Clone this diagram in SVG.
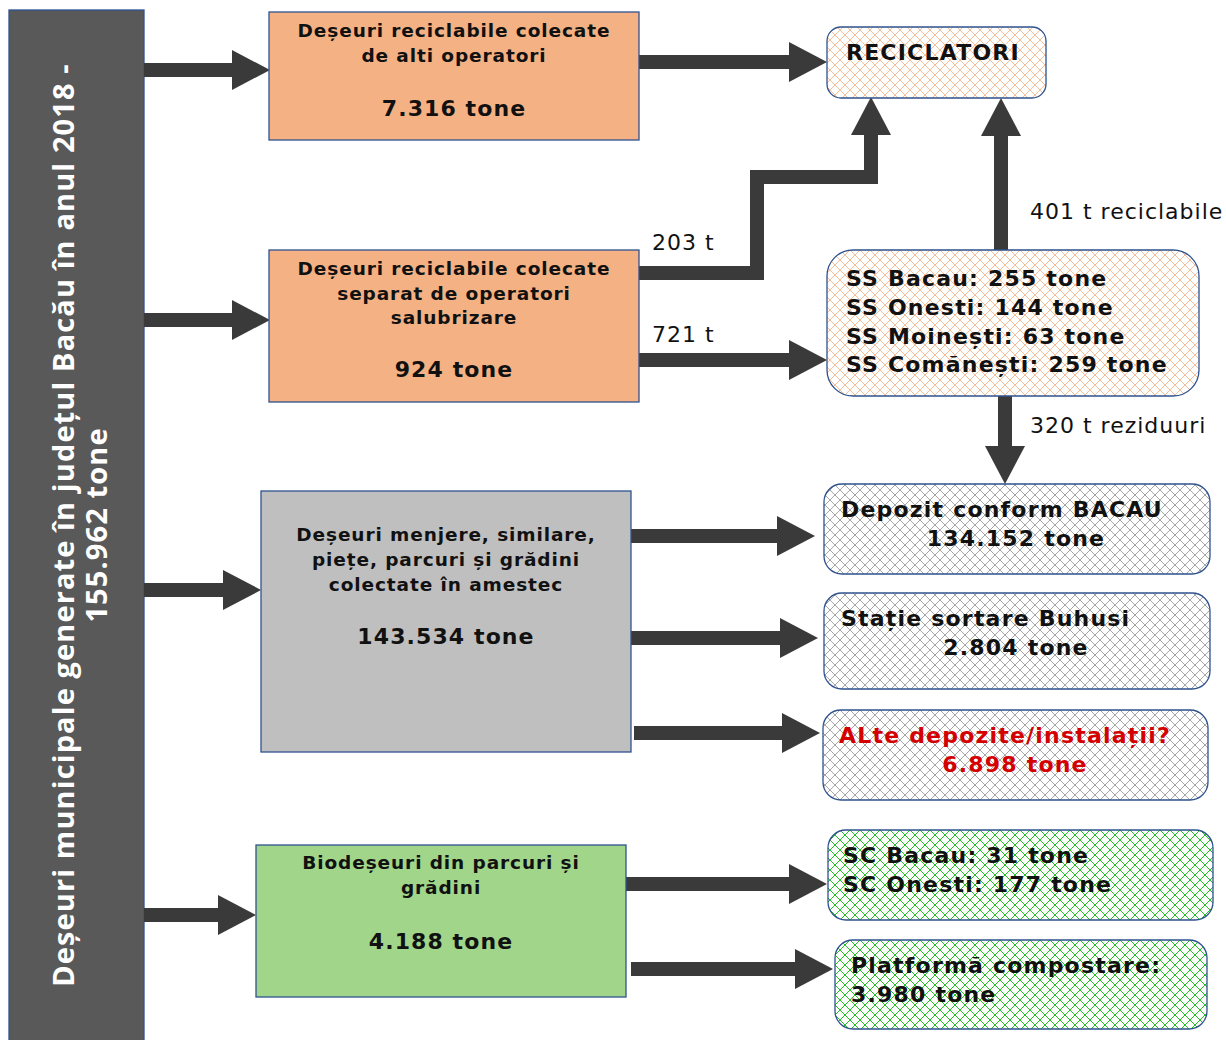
<svg xmlns="http://www.w3.org/2000/svg" width="1226" height="1040" viewBox="0 0 1226 1040">
<style>
.box{stroke:#2F528F;stroke-width:1.3}
.t{font-family:"DejaVu Sans",Verdana,sans-serif;font-weight:bold;font-size:18.5px;letter-spacing:0.9px;fill:#111}
.big{font-size:22px;letter-spacing:1.1px}
.rt{font-family:"DejaVu Sans",Verdana,sans-serif;font-weight:bold;font-size:22px;letter-spacing:1.2px;fill:#111}
.red{fill:#D40000}
.lbl{font-family:"DejaVu Sans",Verdana,sans-serif;font-size:22px;letter-spacing:1px;fill:#111}
.side{font-family:"Open Sans",sans-serif;font-weight:bold;font-size:29px;letter-spacing:1.1px;fill:#fff}
.conn{stroke:#3A3A3A;stroke-width:14;fill:none;stroke-linejoin:miter}
</style>
<defs>
<pattern id="hO" width="10" height="10" patternUnits="userSpaceOnUse">
<rect width="10" height="10" fill="#fff"/>
<path d="M0,0 L10,10 M10,0 L0,10" stroke="#F6BE98" stroke-width="1"/>
</pattern>
<pattern id="hG" width="10" height="10" patternUnits="userSpaceOnUse">
<rect width="10" height="10" fill="#fff"/>
<path d="M0,0 L10,10 M10,0 L0,10" stroke="#A6A6A6" stroke-width="1"/>
</pattern>
<pattern id="hV" width="10" height="10" patternUnits="userSpaceOnUse">
<rect width="10" height="10" fill="#fff"/>
<path d="M0,0 L10,10 M10,0 L0,10" stroke="#22C022" stroke-width="1"/>
</pattern>
<marker id="ah" markerUnits="userSpaceOnUse" markerWidth="38" markerHeight="40" refX="0" refY="20" orient="auto" viewBox="0 0 38 40">
<path d="M0,0 L38,20 L0,40 z" fill="#3A3A3A"/>
</marker>
</defs>

<g id="source">
<rect class="box" x="9" y="10" width="135" height="1040" fill="#595959"/>
<text class="side" transform="translate(62,525) rotate(-90)" text-anchor="middle" dominant-baseline="central">Deșeuri municipale generate în județul Bacău în anul 2018 -</text>
<text class="side" transform="translate(95,525) rotate(-90)" text-anchor="middle" dominant-baseline="central">155.962 tone</text>
</g>

<g id="connectors">
<line class="conn" x1="144" y1="70" x2="232" y2="70" marker-end="url(#ah)"/>
<line class="conn" x1="144" y1="320" x2="232" y2="320" marker-end="url(#ah)"/>
<line class="conn" x1="144" y1="590" x2="223" y2="590" marker-end="url(#ah)"/>
<line class="conn" x1="144" y1="915" x2="218" y2="915" marker-end="url(#ah)"/>
<line class="conn" x1="639" y1="62" x2="789" y2="62" marker-end="url(#ah)"/>
<polyline class="conn" points="639,273 757,273 757,177 871,177 871,135" marker-end="url(#ah)"/>
<line class="conn" x1="639" y1="360" x2="789" y2="360" marker-end="url(#ah)"/>
<line class="conn" x1="1001" y1="250" x2="1001" y2="136" marker-end="url(#ah)"/>
<line class="conn" x1="1005" y1="396" x2="1005" y2="446" marker-end="url(#ah)"/>
<line class="conn" x1="631" y1="536" x2="777" y2="536" marker-end="url(#ah)"/>
<line class="conn" x1="631" y1="638" x2="780" y2="638" marker-end="url(#ah)"/>
<line class="conn" x1="634" y1="733" x2="782" y2="733" marker-end="url(#ah)"/>
<line class="conn" x1="626" y1="884" x2="789" y2="884" marker-end="url(#ah)"/>
<line class="conn" x1="631" y1="969" x2="795" y2="969" marker-end="url(#ah)"/>
<text class="lbl" x="652" y="250">203 t</text>
<text class="lbl" x="652" y="342">721 t</text>
<text class="lbl" x="1030" y="219">401 t reciclabile</text>
<text class="lbl" x="1030" y="433">320 t reziduuri</text>
</g>

<g id="n-alti">
<rect class="box" x="269" y="12" width="370" height="128" fill="#F4B183"/>
<text class="t" x="454" y="37" text-anchor="middle">Deșeuri reciclabile colecate</text>
<text class="t" x="454" y="62" text-anchor="middle">de alti operatori</text>
<text class="t big" x="454" y="116" text-anchor="middle">7.316 tone</text>
</g>

<g id="n-separat">
<rect class="box" x="269" y="250" width="370" height="152" fill="#F4B183"/>
<text class="t" x="454" y="275" text-anchor="middle">Deșeuri reciclabile colecate</text>
<text class="t" x="454" y="300" text-anchor="middle">separat de operatori</text>
<text class="t" x="454" y="324" text-anchor="middle">salubrizare</text>
<text class="t big" x="454" y="377" text-anchor="middle">924 tone</text>
</g>

<g id="n-amestec">
<rect class="box" x="261" y="491" width="370" height="261" fill="#BFBFBF"/>
<text class="t" x="446" y="541" text-anchor="middle">Deșeuri menjere, similare,</text>
<text class="t" x="446" y="566" text-anchor="middle">piețe, parcuri și grădini</text>
<text class="t" x="446" y="591" text-anchor="middle">colectate în amestec</text>
<text class="t big" x="446" y="644" text-anchor="middle">143.534 tone</text>
</g>

<g id="n-bio">
<rect class="box" x="256" y="845" width="370" height="152" fill="#A0D58A"/>
<text class="t" x="441" y="869" text-anchor="middle">Biodeșeuri din parcuri și</text>
<text class="t" x="441" y="894" text-anchor="middle">grădini</text>
<text class="t big" x="441" y="949" text-anchor="middle">4.188 tone</text>
</g>

<g id="n-reciclatori">
<rect class="box" x="827" y="27" width="219" height="71" rx="14" fill="url(#hO)"/>
<text class="rt" x="846" y="60">RECICLATORI</text>
</g>

<g id="n-ss">
<rect class="box" x="827" y="250" width="372" height="146" rx="26" fill="url(#hO)"/>
<text class="rt" x="846" y="286">SS Bacau: 255 tone</text>
<text class="rt" x="846" y="315">SS Onesti: 144 tone</text>
<text class="rt" x="846" y="344">SS Moinești: 63 tone</text>
<text class="rt" x="846" y="372">SS Comănești: 259 tone</text>
</g>

<g id="n-depozit">
<rect class="box" x="824" y="484" width="386" height="90" rx="18" fill="url(#hG)"/>
<text class="rt" x="841" y="517">Depozit conform BACAU</text>
<text class="rt" x="1016" y="546" text-anchor="middle">134.152 tone</text>
</g>

<g id="n-buhusi">
<rect class="box" x="824" y="593" width="386" height="96" rx="18" fill="url(#hG)"/>
<text class="rt" x="841" y="626">Stație sortare Buhusi</text>
<text class="rt" x="1016" y="655" text-anchor="middle">2.804 tone</text>
</g>

<g id="n-alte">
<rect class="box" x="823" y="710" width="385" height="90" rx="18" fill="url(#hG)"/>
<text class="rt red" x="839" y="743">ALte depozite/instalații?</text>
<text class="rt red" x="1015" y="772" text-anchor="middle">6.898 tone</text>
</g>

<g id="n-sc">
<rect class="box" x="828" y="830" width="385" height="90" rx="18" fill="url(#hV)"/>
<text class="rt" x="843" y="863">SC Bacau: 31 tone</text>
<text class="rt" x="843" y="892">SC Onesti: 177 tone</text>
</g>

<g id="n-platforma">
<rect class="box" x="835" y="940" width="372" height="89" rx="18" fill="url(#hV)"/>
<text class="rt" x="851" y="973">Platformă compostare:</text>
<text class="rt" x="851" y="1002">3.980 tone</text>
</g>
</svg>
